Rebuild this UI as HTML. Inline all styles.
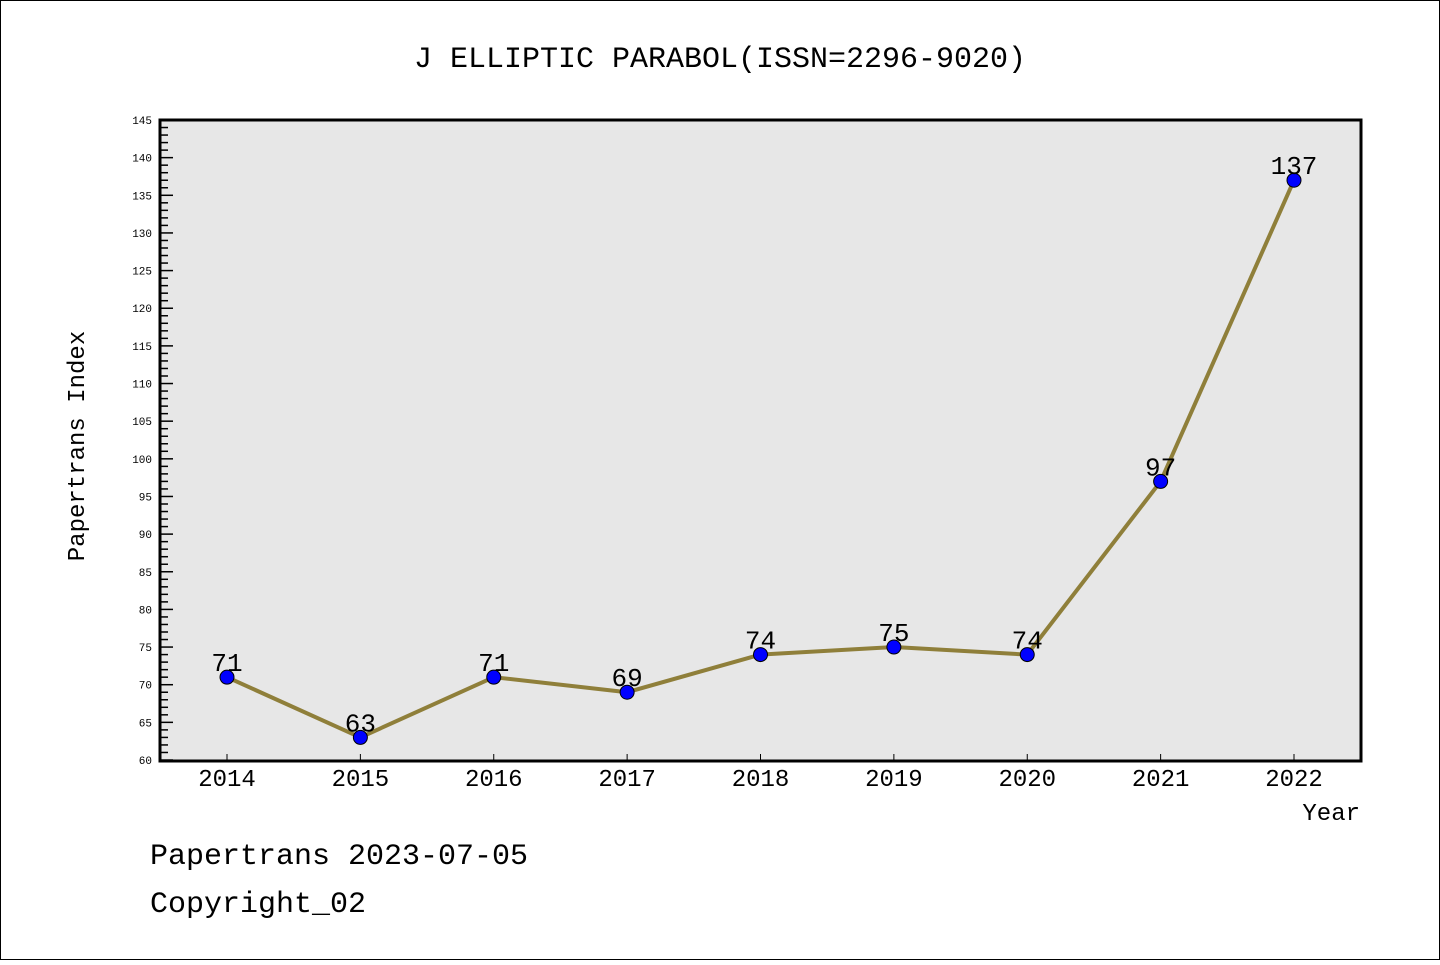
<!DOCTYPE html>
<html><head><meta charset="utf-8"><style>
html,body{margin:0;padding:0;background:#fff}
svg text{font-family:"Liberation Mono","DejaVu Sans Mono",monospace}
</style></head><body>
<svg id="c" width="1440" height="960" xmlns="http://www.w3.org/2000/svg">
<rect x="0.5" y="0.5" width="1439" height="959" fill="#fff" stroke="#000"/>
<text x="720" y="67" text-anchor="middle" font-size="30">J ELLIPTIC PARABOL(ISSN=2296-9020)</text>
<rect x="160" y="120" width="1201" height="641" fill="#e7e7e7"/>
<g id="yaxis"></g>
<g id="xaxis"></g>
<g id="series"></g>
<rect x="160" y="120" width="1201" height="641" fill="none" stroke="#000" stroke-width="3"/>
<text transform="translate(84,446) rotate(-90)" text-anchor="middle" font-size="24">Papertrans Index</text>
<text x="1360" y="820" text-anchor="end" font-size="24">Year</text>
<text x="150" y="864" font-size="30">Papertrans 2023-07-05</text>
<text x="150" y="912" font-size="30">Copyright_02</text>
</svg>
<script>
const years=["2014","2015","2016","2017","2018","2019","2020","2021","2022"];
const values=[71,63,71,69,74,75,74,97,137];
const yTicks=[60,65,70,75,80,85,90,95,100,105,110,115,120,125,130,135,140,145];
const NS="http://www.w3.org/2000/svg";
const yMin=60,yMax=145,plotTop=120,plotBot=760,plotLeft=160;
const x0=227,x1=1294;
function yS(v){return plotBot-(v-yMin)/(yMax-yMin)*(plotBot-plotTop);}
function xS(i){return x0+i*(x1-x0)/(years.length-1);}
function mk(t,a,p){const e=document.createElementNS(NS,t);for(const k in a)e.setAttribute(k,a[k]);p.appendChild(e);return e;}
const ya=document.getElementById('yaxis'),xa=document.getElementById('xaxis'),s=document.getElementById('series');
for(let v=yMin;v<=yMax;v++){
  const major=v%5===0;
  const l=mk('line',{x1:plotLeft,x2:plotLeft+(major?13:8),y1:yS(v),y2:yS(v),stroke:'#000','stroke-width':1.5},ya);
  
  
}
yTicks.forEach(v=>{
  const t=mk('text',{x:152,y:yS(v)+4,'text-anchor':'end','font-size':11,'font-family':'DejaVu Sans, sans-serif'},ya);
  t.textContent=v;
  
  
});
years.forEach((yr,i)=>{
  const l=mk('line',{x1:xS(i),x2:xS(i),y1:plotBot,y2:plotBot-6,stroke:'#000','stroke-width':1},xa);
  
  
  const t=mk('text',{x:xS(i),y:786,'text-anchor':'middle','font-size':24,'font-family':'DejaVu Sans, sans-serif'},xa);
  t.textContent=yr;
  
  
});
const pl=mk('polyline',{points:values.map((v,i)=>xS(i)+','+yS(v)).join(' '),fill:'none',stroke:'#8f7f3a','stroke-width':4,'stroke-linejoin':'round'},s);


values.forEach((v,i)=>{
  const c=mk('circle',{cx:xS(i),cy:yS(v),r:7,fill:'#0000ff',stroke:'#000','stroke-width':1},s);
  
  
  const t=mk('text',{x:xS(i),y:yS(v)-6,'text-anchor':'middle','font-size':26,'font-family':'DejaVu Sans, sans-serif'},s);
  t.textContent=v;
  
  
});
</script>
</body></html>
